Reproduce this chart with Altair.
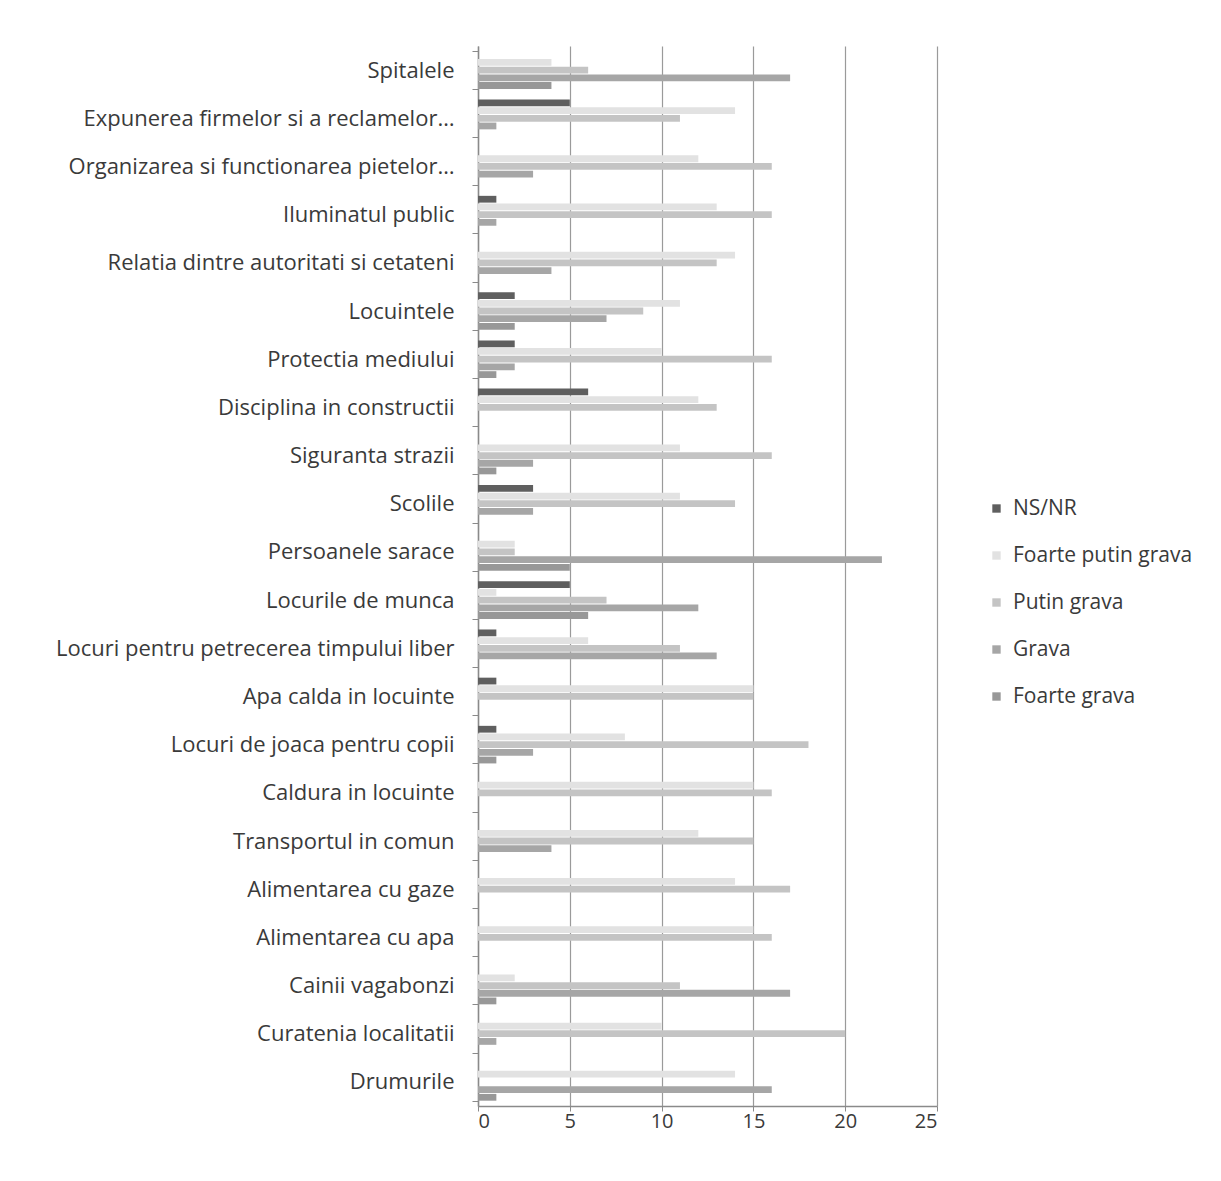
import altair as alt
import pandas as pd

categories = [
    "Spitalele",
    "Expunerea firmelor si a reclamelor…",
    "Organizarea si functionarea pietelor…",
    "Iluminatul public",
    "Relatia dintre autoritati si cetateni",
    "Locuintele",
    "Protectia mediului",
    "Disciplina  in constructii",
    "Siguranta strazii",
    "Scolile",
    "Persoanele sarace",
    "Locurile de munca",
    "Locuri pentru petrecerea timpului liber",
    "Apa calda in locuinte",
    "Locuri de joaca pentru copii",
    "Caldura in locuinte",
    "Transportul in comun",
    "Alimentarea cu gaze",
    "Alimentarea cu apa",
    "Cainii vagabonzi",
    "Curatenia localitatii",
    "Drumurile",
]

series_names = ["NS/NR", "Foarte putin grava", "Putin grava", "Grava", "Foarte grava"]
series_colors = ["#5f5f5f", "#e2e2e2", "#c4c4c4", "#a6a6a6", "#989898"]

ns_nr        = [0, 5, 0, 1, 0, 2, 2, 6, 0, 3, 0, 5, 1, 1, 1, 0, 0, 0, 0, 0, 0, 0]
foarte_putin = [4, 14, 12, 13, 14, 11, 10, 12, 11, 11, 2, 1, 6, 15, 8, 15, 12, 14, 15, 2, 10, 14]
putin        = [6, 11, 16, 16, 13, 9, 16, 13, 16, 14, 2, 7, 11, 15, 18, 16, 15, 17, 16, 11, 20, 0]
grava        = [17, 1, 3, 1, 4, 7, 2, 0, 3, 3, 22, 12, 13, 0, 3, 0, 4, 0, 0, 17, 1, 16]
foarte_grava = [4, 0, 0, 0, 0, 2, 1, 0, 1, 0, 5, 6, 0, 0, 1, 0, 0, 0, 0, 1, 0, 1]

values = [ns_nr, foarte_putin, putin, grava, foarte_grava]

rows = []
for s, vals in zip(series_names, values):
    for c, v in zip(categories, vals):
        rows.append({"cat": c, "series": s, "value": v})
df = pd.DataFrame(rows)

FONT = "Open Sans"
TEXT = "#3a3a3a"

chart = (
    alt.Chart(df)
    .mark_bar()
    .encode(
        y=alt.Y(
            "cat:N",
            sort=categories,
            title=None,
            scale=alt.Scale(paddingInner=0.22, paddingOuter=0.11),
            axis=alt.Axis(
                labelFontSize=22,
                labelFont=FONT,
                labelColor=TEXT,
                labelPadding=18,
                labelLimit=0,
                ticks=True,
                tickSize=6,
                tickColor="#8a8a8a",
                tickBand="extent",
                domainColor="#8a8a8a",
                domainWidth=1.5,
                minExtent=465,
                maxExtent=465,
            ),
        ),
        yOffset=alt.YOffset(
            "series:N",
            sort=series_names,
            scale=alt.Scale(paddingInner=0.12),
        ),
        x=alt.X(
            "value:Q",
            title=None,
            scale=alt.Scale(domain=[0, 25]),
            axis=alt.Axis(
                values=[0, 5, 10, 15, 20, 25],
                labelFontSize=20,
                labelFont=FONT,
                labelColor=TEXT,
                labelPadding=0,
                grid=True,
                gridColor="#9a9a9a",
                gridWidth=1.2,
                domainColor="#8a8a8a",
                domainWidth=1.5,
                tickColor="#8a8a8a",
                tickSize=5,
            ),
        ),
        color=alt.Color(
            "series:N",
            sort=series_names,
            scale=alt.Scale(domain=series_names, range=series_colors),
            legend=alt.Legend(
                title=None,
                orient="none",
                legendX=508,
                legendY=452,
                symbolType="square",
                symbolSize=70,
                symbolStrokeWidth=0,
                labelFontSize=21,
                labelFont=FONT,
                labelColor=TEXT,
                labelLimit=0,
                rowPadding=25,
                labelOffset=6,
            ),
        ),
    )
    .properties(
        width=459,
        height=1060,
        padding={"left": 5, "top": 27, "right": 5, "bottom": 5},
    )
    .configure_view(stroke=None)
)

chart.save("out.html", embed_options={"renderer": "svg", "actions": False})
